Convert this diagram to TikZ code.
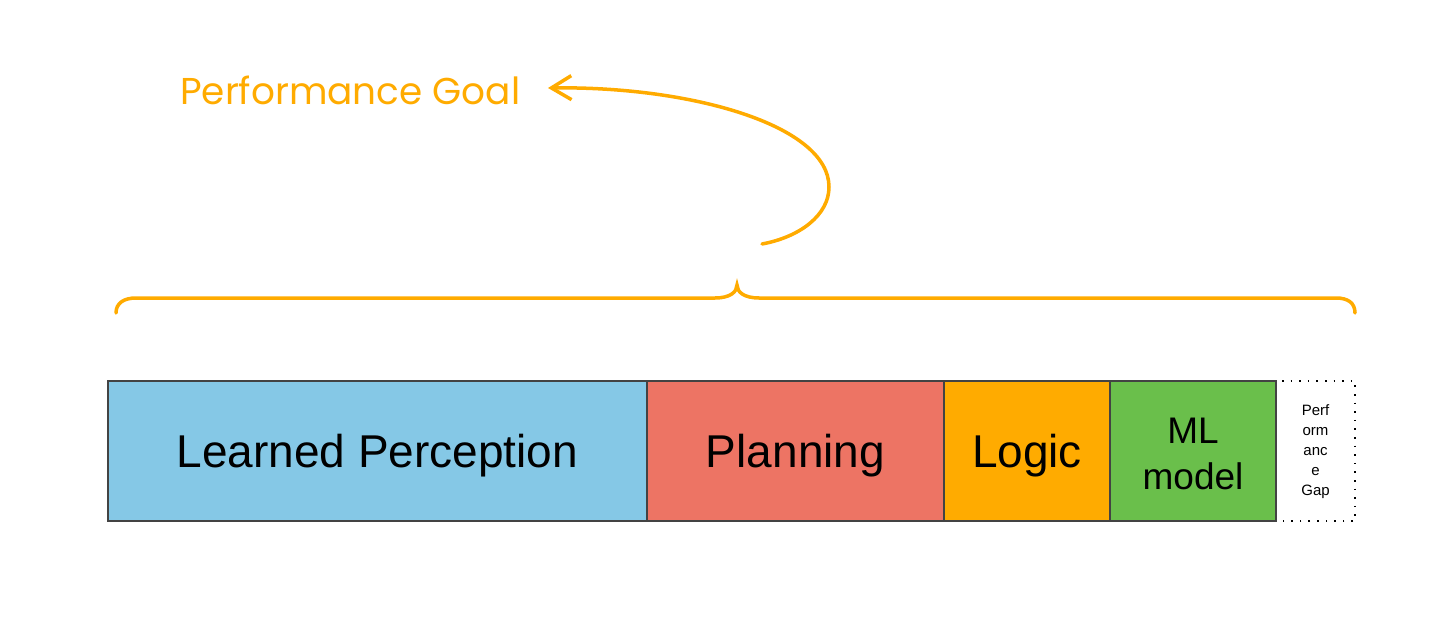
\documentclass[tikz,border=0pt]{standalone}
\usepackage{fontspec}
\usepackage{graphicx}
\setmainfont{Liberation Sans}
\newfontfamily\handfont{Poppins}
\usetikzlibrary{arrows.meta}
\definecolor{cblue}{HTML}{85C8E6}
\definecolor{cred}{HTML}{ED7464}
\definecolor{corange}{HTML}{FFAB00}
\definecolor{cgreen}{HTML}{6ABF4B}
\definecolor{cborder}{HTML}{434343}
\definecolor{cgoal}{HTML}{FFAB00}
\begin{document}
\begin{tikzpicture}[x=1pt,y=-1pt,
  seg/.style={draw=cborder,line width=1.6pt},
  lbl/.style={font=\fontsize{46}{50}\selectfont,text=black},
  orangeline/.style={draw=cgoal,line width=3.5pt,line cap=round}]
\useasboundingbox (0,0) rectangle (1456,623);
% segments
\path[fill=cblue] (108,381) rectangle (647,521);
\path[fill=cred] (647,381) rectangle (944,521);
\path[fill=corange] (944,381) rectangle (1110,521);
\path[fill=cgreen] (1110,381) rectangle (1276,521);
\draw[seg] (108,381) rectangle (647,521);
\draw[seg] (647,381) rectangle (944,521);
\draw[seg] (944,381) rectangle (1110,521);
\draw[seg] (1110,381) rectangle (1276,521);
\draw[black,line width=1.6pt,dash pattern=on 1.6pt off 7pt] (1282,381) -- (1355,381) -- (1355,521) -- (1282,521);
\node[lbl] (lp) at (377.5,456) {Learned Perception};
\node[lbl] (pl) at (795.5,456) {Planning};
\node[lbl] (lo) at (1027,456) {Logic};
\node[align=center,font=\fontsize{37}{46}\selectfont] (ml) at (1193,454) {ML\\model};
\node[align=center,font=\fontsize{15}{20}\selectfont] (gap) at (1315.5,452) {Perf\\orm\\anc\\e\\Gap};
% brace
\draw[orangeline] (116,313) .. controls (116,303) and (124,298) .. (136,298) -- (715,298) .. controls (730,298) and (737,292) .. (737,285)
  .. controls (737,292) and (744,298) .. (759,298) -- (1336,298) .. controls (1348,298) and (1355,303) .. (1355,313);
% goal
\node[text=cgoal,anchor=west,inner sep=0pt] (goal) at (180,90) {\resizebox{340pt}{!}{\handfont Performance Goal}};
\coordinate (cs) at (762,244);
\coordinate (ce) at (548,88);
\draw[orangeline,-{Straight Barb[length=20pt,width=24pt,line width=3.5pt]}] (cs) .. controls (800,237) and (829,215) .. (829,187) .. controls (829,125) and (690,86) .. (ce);
\end{tikzpicture}
\end{document}
